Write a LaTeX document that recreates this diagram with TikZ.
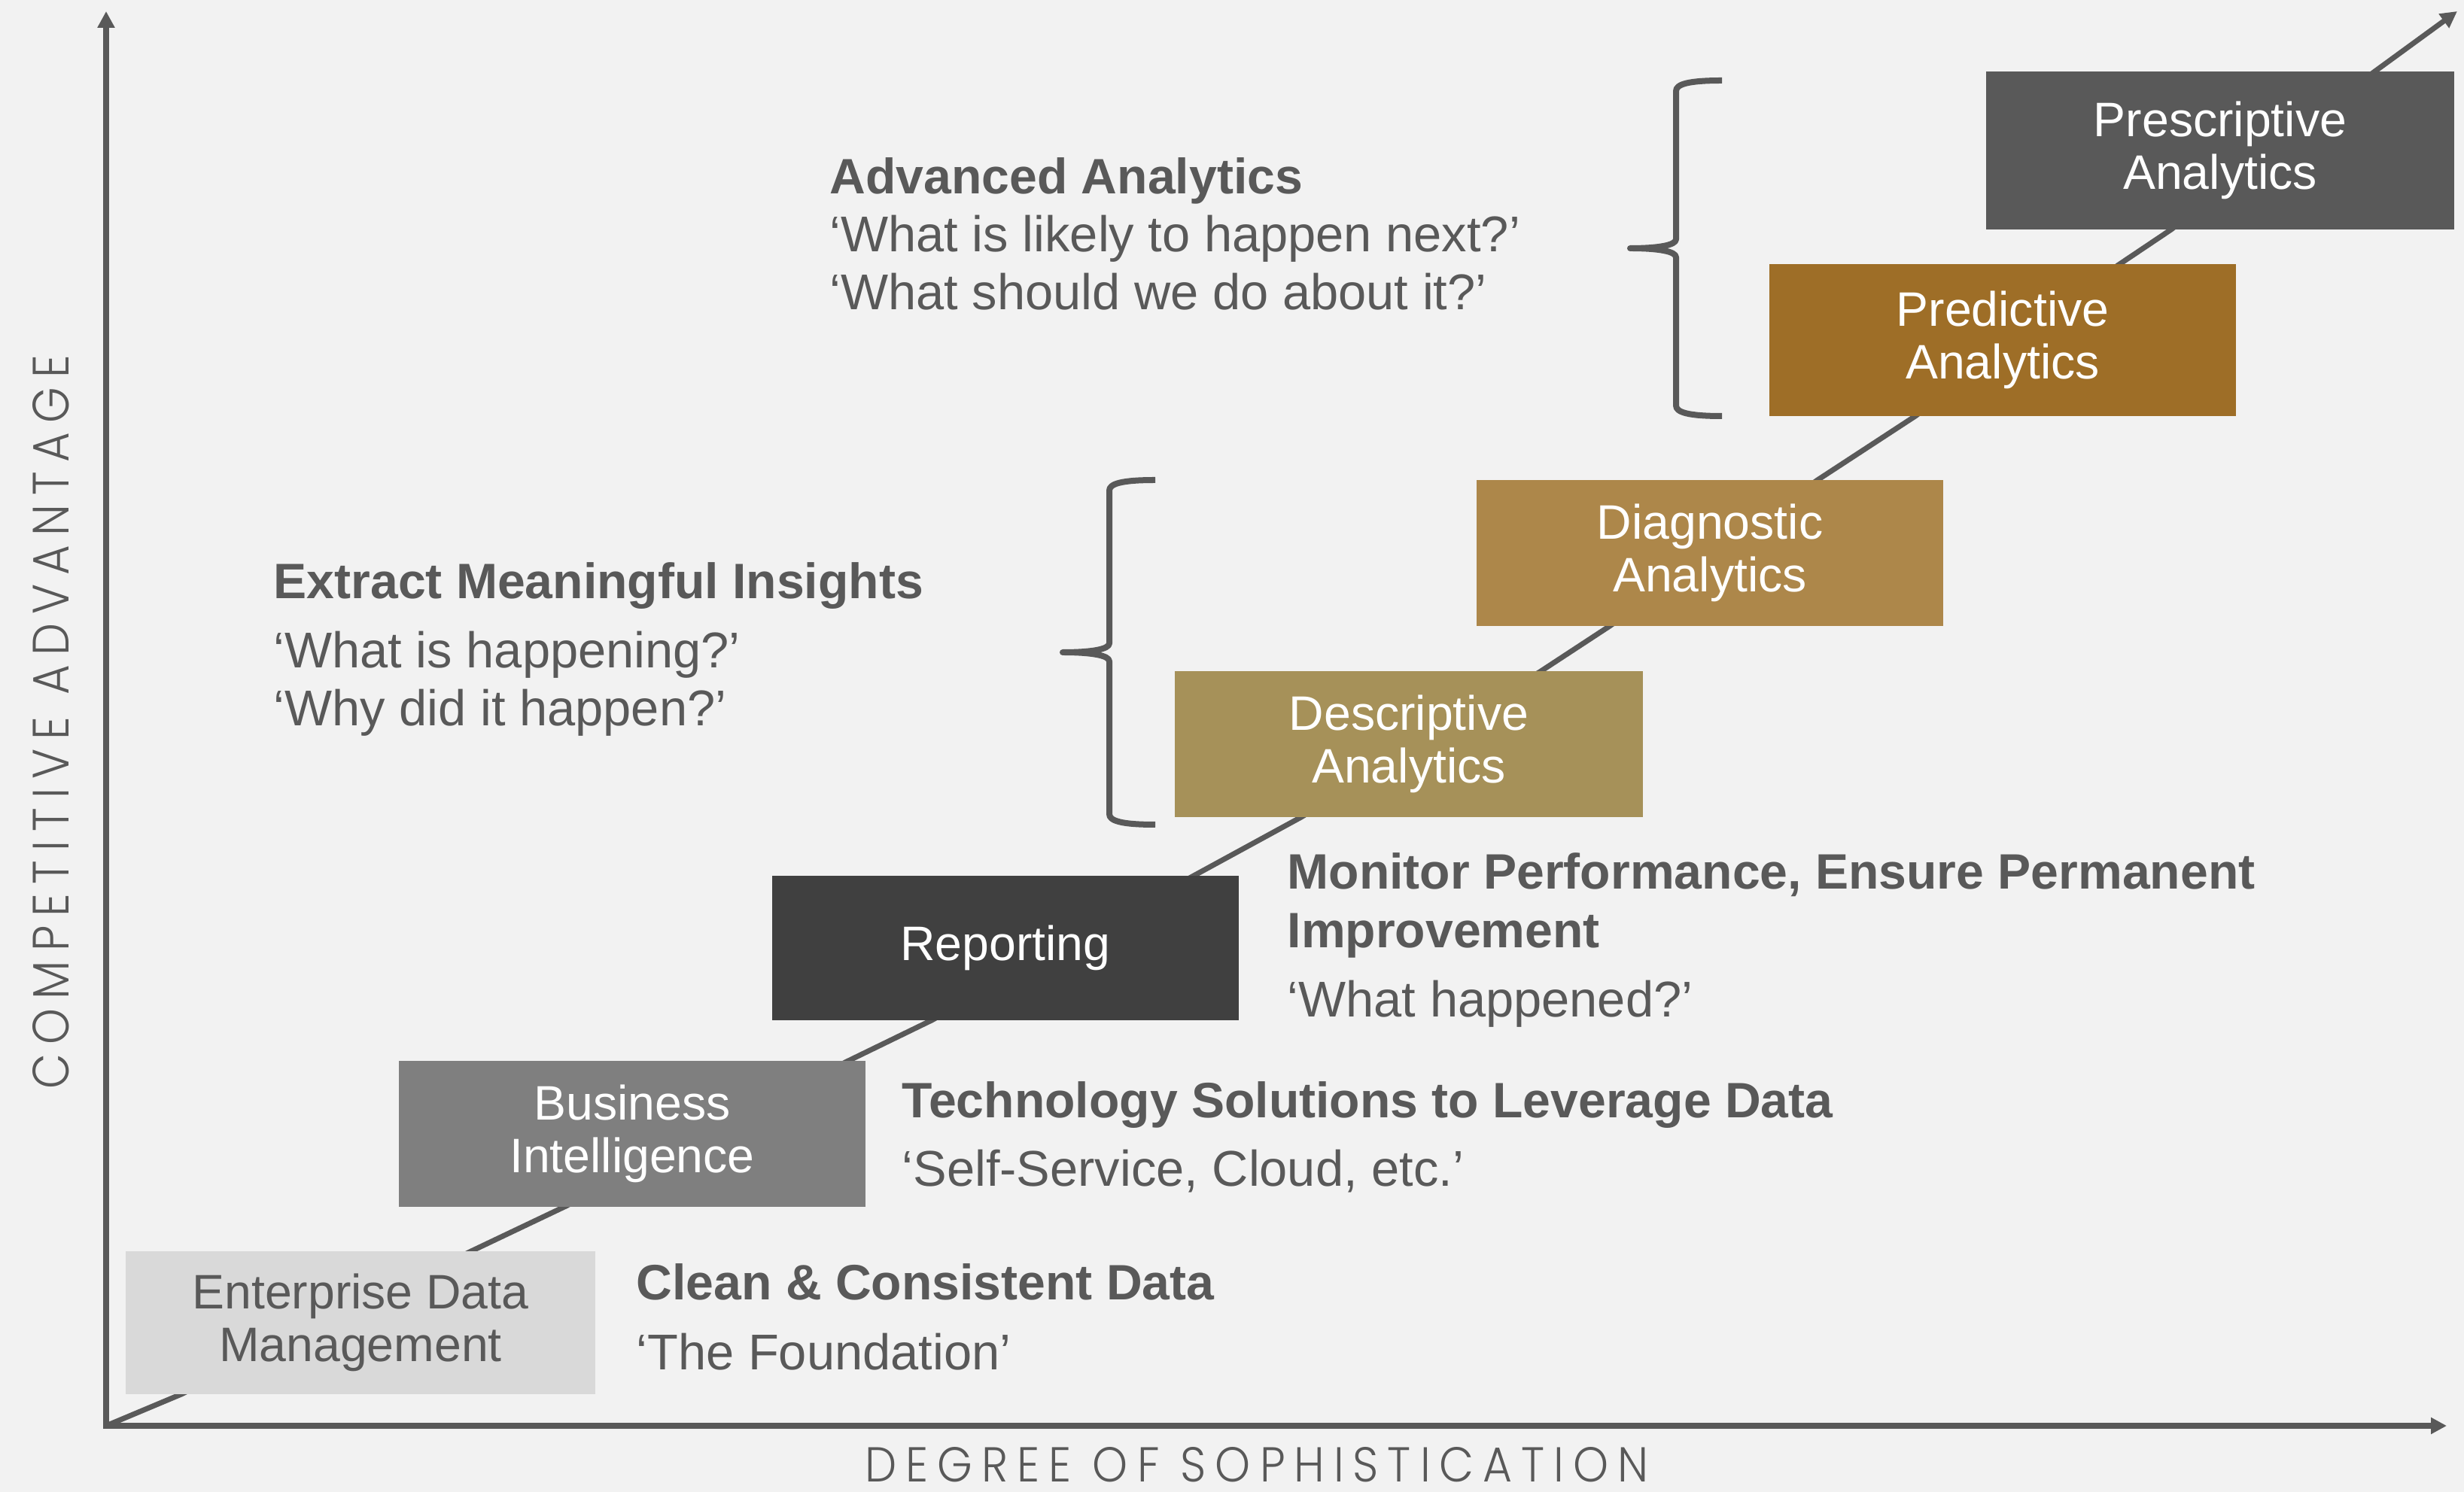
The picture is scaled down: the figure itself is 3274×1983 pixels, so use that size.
\documentclass[tikz,border=0pt]{standalone}
\usepackage{graphicx}
\usepackage{fontspec}
\setmainfont{Liberation Sans}
\IfFontExistsTF{Poppins Light}
  {\newfontfamily\axisfont{Poppins Light}[LetterSpace=20]}
  {\newfontfamily\axisfont{Poppins}[LetterSpace=20]}
\usetikzlibrary{arrows.meta}

\definecolor{bg}{HTML}{F2F2F2}
\definecolor{ink}{HTML}{595959}
\definecolor{edmfill}{HTML}{D9D9D9}
\definecolor{bifill}{HTML}{7F7F7F}
\definecolor{repfill}{HTML}{404040}
\definecolor{descfill}{HTML}{A69159}
\definecolor{diagfill}{HTML}{AD874A}
\definecolor{predfill}{HTML}{9E6E27}
\definecolor{presfill}{HTML}{595959}

\tikzset{
  stage/.style={rectangle, inner sep=0pt, minimum width=6.2cm, align=center,
    text=white, font=\fontsize{18.3pt}{20pt}\selectfont},
  head/.style={anchor=base west, inner sep=0pt, text=ink,
    font=\bfseries\fontsize{18.8pt}{22pt}\selectfont},
  quote/.style={anchor=base west, inner sep=0pt, text=ink,
    font=\fontsize{19pt}{22pt}\selectfont},
  axisline/.style={draw=ink, line width=0.08cm, line join=miter},
  trend/.style={draw=ink, line width=0.07cm, line join=round,
    -{Triangle[length=0.22cm,width=0.22cm]}},
  bracket/.style={draw=ink, line width=0.08cm, line join=round},
  axislabel/.style={inner sep=0pt, text=ink}
}

\begin{document}
\begin{tikzpicture}[x=0.01cm, y=-0.01cm]
  % canvas
  \useasboundingbox (0,0) rectangle (3274,1983);
  \fill[bg] (0,0) rectangle (3274,1983);

  % axis end points
  \coordinate (origin) at (141,1895);
  \coordinate (ytip) at (141,15);
  \coordinate (xtip) at (3251,1895);
  \coordinate (dtip) at (3265,15);

  % rising trend line behind the stages
  \draw[trend] (origin) -- (241,1853) -- (626,1663) -- (752,1603)
    -- (1125,1411) -- (1238,1356) -- (1586,1164) -- (1729,1086)
    -- (2046,893) -- (2139,832) -- (2415,638) -- (2545,553)
    -- (2815,352) -- (2885,305) -- (3154,96) -- (dtip);

  % curly brackets
  \draw[bracket] (1535,638) .. controls (1490,638) and (1474,643) .. (1474,652)
    -- (1474,855) .. controls (1474,863) and (1450,867) .. (1412,867)
    .. controls (1450,867) and (1474,871) .. (1474,879)
    -- (1474,1082) .. controls (1474,1091) and (1490,1096) .. (1535,1096);
  \draw[bracket] (2288,107) .. controls (2243,107) and (2227,112) .. (2227,121)
    -- (2227,318) .. controls (2227,326) and (2203,330) .. (2166,330)
    .. controls (2203,330) and (2227,334) .. (2227,342)
    -- (2227,539) .. controls (2227,548) and (2243,553) .. (2288,553);

  % stages
  \node[stage, fill=edmfill, text=ink, minimum width=6.24cm, minimum height=1.90cm]
    (edm) at (479,1758) {Enterprise Data\\Management};
  \node[stage, fill=bifill, minimum height=1.93cm]
    (bi) at (840,1507) {Business\\Intelligence};
  \node[stage, fill=repfill, minimum height=1.92cm]
    (rep) at (1336,1260) {Reporting};
  \node[stage, fill=descfill, minimum width=6.22cm, minimum height=1.93cm]
    (desc) at (1872,989) {Descriptive\\Analytics};
  \node[stage, fill=diagfill, minimum height=1.94cm]
    (diag) at (2272,735) {Diagnostic\\Analytics};
  \node[stage, fill=predfill, minimum height=2.01cm]
    (pred) at (2661,452) {Predictive\\Analytics};
  \node[stage, fill=presfill, minimum width=6.21cm, minimum height=2.09cm]
    (pres) at (2950,200) {Prescriptive\\Analytics};

  % axes
  \draw[axisline, {Triangle[length=0.22cm,width=0.22cm]}-{Triangle[length=0.21cm,width=0.21cm]}]
    (ytip) -- (origin) -- (xtip);

  % axis titles
  \node[axislabel, anchor=base] (xlabel) at (1670,1969)
    {\resizebox{10.40cm}{0.46cm}{\axisfont DEGREE OF SOPHISTICATION}};
  \node[axislabel, rotate=90, anchor=base] (ylabel) at (91,960)
    {\resizebox{9.75cm}{0.48cm}{\axisfont COMPETITIVE ADVANTAGE}};

  % descriptions
  \node[head]  (advh)   at (1102,258)  {Advanced Analytics};
  \node[quote] (advq1)  at (1102,335)  {‘What is likely to happen next?’};
  \node[quote] (advq2)  at (1102,412)  {‘What should we do about it?’};

  \node[head]  (insh)   at (363,796)   {Extract Meaningful Insights};
  \node[quote] (insq1)  at (363,888)   {‘What is happening?’};
  \node[quote] (insq2)  at (363,965)   {‘Why did it happen?’};

  \node[head]  (monh1)  at (1710,1182) {Monitor Performance, Ensure Permanent};
  \node[head]  (monh2)  at (1710,1260) {Improvement};
  \node[quote] (monq)   at (1710,1352) {‘What happened?’};

  \node[head]  (techh)  at (1198,1486) {Technology Solutions to Leverage Data};
  \node[quote] (techq)  at (1198,1577) {‘Self-Service, Cloud, etc.’};

  \node[head]  (cleanh) at (845,1728)  {Clean \& Consistent Data};
  \node[quote] (cleanq) at (845,1821)  {‘The Foundation’};
\end{tikzpicture}
\end{document}
